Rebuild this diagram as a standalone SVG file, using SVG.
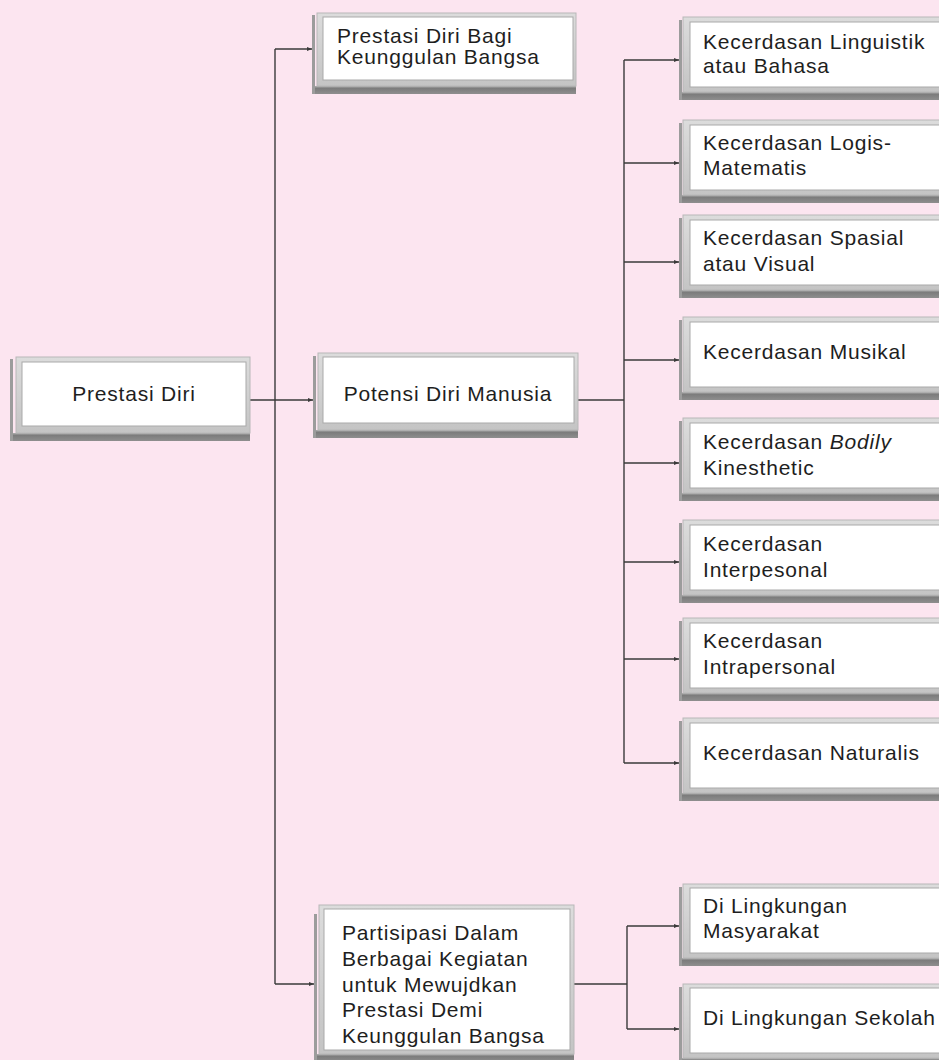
<svg xmlns="http://www.w3.org/2000/svg" width="939" height="1060" viewBox="0 0 939 1060">
<style>
.spine{fill:#9c9c9c}
.frame{fill:url(#fr);stroke:#b8b8b8;stroke-width:1}
.inner{fill:#ffffff;stroke:#a9a9a9;stroke-width:1}
.shadow{fill:url(#sh)}
.conn{stroke:#3a3a3a;stroke-width:1.4;fill:none}
.arr{marker-end:url(#ah)}
.t{font-family:"Liberation Sans",Arial,sans-serif;font-size:21px;letter-spacing:0.8px;fill:#1e1e1e}
.c{text-anchor:middle}
</style>
<defs>
<linearGradient id="fr" x1="0" y1="0" x2="0" y2="1">
<stop offset="0" stop-color="#dcdcdc"/>
<stop offset="1" stop-color="#c4c4c4"/>
</linearGradient>
<linearGradient id="sh" x1="0" y1="0" x2="0" y2="1">
<stop offset="0" stop-color="#b0b0b0"/>
<stop offset="0.3" stop-color="#7c7c7c"/>
<stop offset="1" stop-color="#8e8e8e"/>
</linearGradient>
<marker id="ah" markerWidth="6" markerHeight="6" refX="5" refY="3" orient="auto" markerUnits="userSpaceOnUse">
<path d="M0,1 L5,3 L0,5 z" fill="#3a3a3a"/>
</marker>
</defs>
<rect x="0" y="0" width="939" height="1060" fill="#fce5f0"/>

<g id="connectors">
<path class="conn" d="M275,49 V984"/>
<path class="conn arr" d="M275,49 H312"/>
<path class="conn arr" d="M250,400 H313"/>
<path class="conn arr" d="M275,984 H314"/>
<path class="conn" d="M578,400 H624"/>
<path class="conn" d="M624,60 V763"/>
<path class="conn arr" d="M624,60 H679"/>
<path class="conn arr" d="M624,163 H679"/>
<path class="conn arr" d="M624,262 H679"/>
<path class="conn arr" d="M624,360 H679"/>
<path class="conn arr" d="M624,463 H679"/>
<path class="conn arr" d="M624,562 H679"/>
<path class="conn arr" d="M624,659 H679"/>
<path class="conn arr" d="M624,763 H679"/>
<path class="conn" d="M574,984 H627"/>
<path class="conn" d="M627,926 V1029"/>
<path class="conn arr" d="M627,926 H679"/>
<path class="conn arr" d="M627,1029 H679"/>
</g>

<g id="prestasi-diri">
<rect class="shadow" x="10" y="433" width="240" height="8"/>
<rect class="frame" x="16" y="357" width="234" height="76"/>
<rect class="inner" x="22" y="362" width="224" height="64"/>
<rect class="spine" x="10" y="359" width="3" height="82"/>
<text class="t c" x="134" y="401">Prestasi Diri</text>
</g>

<g id="prestasi-bagi">
<rect class="shadow" x="312" y="86" width="264" height="8"/>
<rect class="frame" x="317" y="13" width="259" height="73"/>
<rect class="inner" x="323" y="17" width="250" height="63"/>
<rect class="spine" x="312" y="15" width="3" height="79"/>
<text class="t" x="337" y="43">Prestasi Diri Bagi</text>
<text class="t" x="337" y="64">Keunggulan Bangsa</text>
</g>

<g id="potensi">
<rect class="shadow" x="313" y="430" width="265" height="8"/>
<rect class="frame" x="318" y="353" width="260" height="77"/>
<rect class="inner" x="323" y="357" width="251" height="66"/>
<rect class="spine" x="313" y="356" width="3" height="82"/>
<text class="t c" x="448" y="401">Potensi Diri Manusia</text>
</g>

<g id="partisipasi">
<rect class="shadow" x="314" y="1054" width="260" height="8"/>
<rect class="frame" x="319" y="905" width="255" height="149"/>
<rect class="inner" x="324" y="909" width="246" height="141"/>
<rect class="spine" x="314" y="914" width="3" height="148"/>
<text class="t" x="342" y="940">Partisipasi Dalam</text>
<text class="t" x="342" y="966">Berbagai Kegiatan</text>
<text class="t" x="342" y="992">untuk Mewujdkan</text>
<text class="t" x="342" y="1017">Prestasi Demi</text>
<text class="t" x="342" y="1043">Keunggulan Bangsa</text>
</g>

<g id="linguistik">
<rect class="shadow" x="679" y="92" width="266" height="8"/>
<rect class="frame" x="683" y="17" width="262" height="75"/>
<rect class="inner" x="690" y="22" width="255" height="65"/>
<rect class="spine" x="679" y="20" width="3" height="80"/>
<text class="t" x="703" y="49">Kecerdasan Linguistik</text>
<text class="t" x="703" y="73">atau Bahasa</text>
</g>

<g id="logis">
<rect class="shadow" x="679" y="195" width="266" height="8"/>
<rect class="frame" x="683" y="120" width="262" height="75"/>
<rect class="inner" x="690" y="125" width="255" height="65"/>
<rect class="spine" x="679" y="123" width="3" height="80"/>
<text class="t" x="703" y="150">Kecerdasan Logis-</text>
<text class="t" x="703" y="175">Matematis</text>
</g>

<g id="spasial">
<rect class="shadow" x="679" y="290" width="266" height="8"/>
<rect class="frame" x="683" y="215" width="262" height="75"/>
<rect class="inner" x="690" y="220" width="255" height="65"/>
<rect class="spine" x="679" y="218" width="3" height="80"/>
<text class="t" x="703" y="245">Kecerdasan Spasial</text>
<text class="t" x="703" y="271">atau Visual</text>
</g>

<g id="musikal">
<rect class="shadow" x="679" y="392" width="266" height="8"/>
<rect class="frame" x="683" y="317" width="262" height="75"/>
<rect class="inner" x="690" y="322" width="255" height="65"/>
<rect class="spine" x="679" y="320" width="3" height="80"/>
<text class="t" x="703" y="359">Kecerdasan Musikal</text>
</g>

<g id="bodily">
<rect class="shadow" x="679" y="493" width="266" height="8"/>
<rect class="frame" x="683" y="418" width="262" height="75"/>
<rect class="inner" x="690" y="423" width="255" height="65"/>
<rect class="spine" x="679" y="421" width="3" height="80"/>
<text class="t" x="703" y="449">Kecerdasan <tspan font-style="italic">Bodily</tspan></text>
<text class="t" x="703" y="475">Kinesthetic</text>
</g>

<g id="interpesonal">
<rect class="shadow" x="679" y="595" width="266" height="8"/>
<rect class="frame" x="683" y="520" width="262" height="75"/>
<rect class="inner" x="690" y="525" width="255" height="65"/>
<rect class="spine" x="679" y="523" width="3" height="80"/>
<text class="t" x="703" y="551">Kecerdasan</text>
<text class="t" x="703" y="577">Interpesonal</text>
</g>

<g id="intrapersonal">
<rect class="shadow" x="679" y="693" width="266" height="8"/>
<rect class="frame" x="683" y="618" width="262" height="75"/>
<rect class="inner" x="690" y="623" width="255" height="65"/>
<rect class="spine" x="679" y="621" width="3" height="80"/>
<text class="t" x="703" y="648">Kecerdasan</text>
<text class="t" x="703" y="674">Intrapersonal</text>
</g>

<g id="naturalis">
<rect class="shadow" x="679" y="793" width="266" height="8"/>
<rect class="frame" x="683" y="718" width="262" height="75"/>
<rect class="inner" x="690" y="723" width="255" height="65"/>
<rect class="spine" x="679" y="721" width="3" height="80"/>
<text class="t" x="703" y="760">Kecerdasan Naturalis</text>
</g>

<g id="masyarakat">
<rect class="shadow" x="679" y="958" width="266" height="8"/>
<rect class="frame" x="683" y="884" width="262" height="74"/>
<rect class="inner" x="690" y="888" width="255" height="65"/>
<rect class="spine" x="679" y="887" width="3" height="79"/>
<text class="t" x="703" y="913">Di Lingkungan</text>
<text class="t" x="703" y="938">Masyarakat</text>
</g>

<g id="sekolah">
<rect class="shadow" x="679" y="1058" width="266" height="8"/>
<rect class="frame" x="683" y="984" width="262" height="74"/>
<rect class="inner" x="690" y="988" width="255" height="65"/>
<rect class="spine" x="679" y="987" width="3" height="79"/>
<text class="t" x="703" y="1025">Di Lingkungan Sekolah</text>
</g>
</svg>
